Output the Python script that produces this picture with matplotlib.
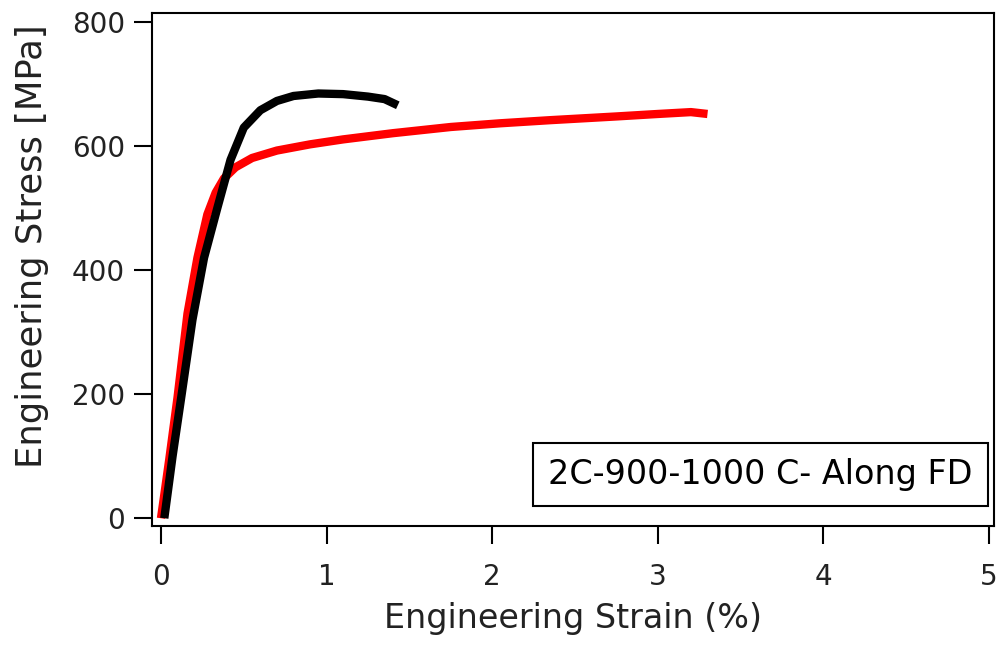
import numpy as np
import matplotlib.pyplot as plt

# Stress-strain curves
red_strain = [0.0, 0.05, 0.10, 0.16, 0.22, 0.28, 0.33, 0.38, 0.45, 0.55, 0.70, 0.90,
              1.10, 1.40, 1.75, 2.05, 2.35, 2.75, 3.00, 3.20, 3.30]
red_stress = [0, 95, 195, 330, 420, 490, 525, 548, 566, 581, 593, 603,
              611, 621, 631, 637, 642, 648, 652, 655, 652]

black_strain = [0.02, 0.07, 0.125, 0.19, 0.26, 0.34, 0.42, 0.50, 0.60, 0.70, 0.80,
                0.95, 1.10, 1.25, 1.35, 1.43]
black_stress = [0, 100, 200, 320, 420, 500, 578, 630, 658, 673, 681,
                685, 684, 680, 676, 666]

x_ticks = [0, 1, 2, 3, 4, 5]
y_ticks = [0, 200, 400, 600, 800]

fig = plt.figure(figsize=(9.97, 6.45), dpi=100)
ax = fig.add_axes([0.152, 0.185, 0.845, 0.795])

ax.plot(red_strain, red_stress, color='red', lw=6, solid_capstyle='butt')
ax.plot(black_strain, black_stress, color='black', lw=6, solid_capstyle='butt')

ax.set_xlim(-0.057, 5.03)
ax.set_ylim(-12, 815)
ax.set_xticks(x_ticks)
ax.set_yticks(y_ticks)

for s in ax.spines.values():
    s.set_linewidth(1.5)
ax.tick_params(direction='out', length=13, width=1.5, labelsize=20,
               labelcolor='#222222')
ax.tick_params(axis='x', pad=14)
ax.tick_params(axis='y', pad=6)

ax.set_xlabel('Engineering Strain (%)', fontsize=24, color='#222222', labelpad=8)
ax.set_ylabel('Engineering Stress [MPa]', fontsize=25.5, color='#222222')
ax.yaxis.set_label_coords(-0.122, 0.545)

ax.text(0.975, 0.068, '2C-900-1000 C- Along FD', transform=ax.transAxes,
        ha='right', va='bottom', fontsize=24,
        bbox=dict(boxstyle='square,pad=0.45', fc='white', ec='black', lw=1.5))

fig.savefig('out.png', dpi=100)
